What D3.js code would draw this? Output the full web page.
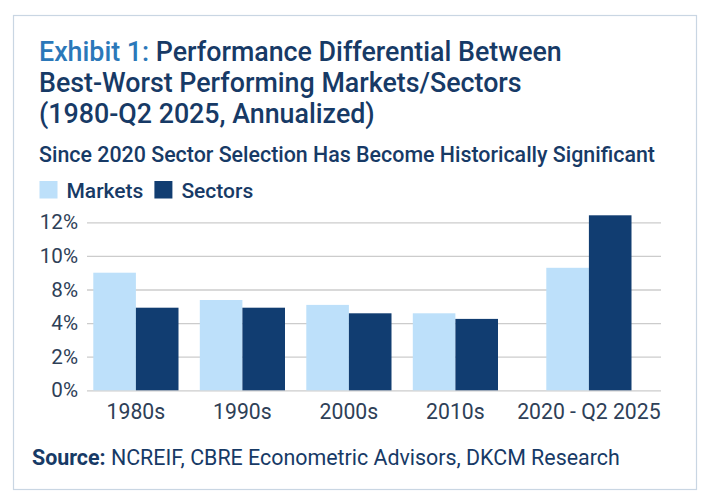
<!DOCTYPE html>
<html>
<head>
<meta charset="utf-8">
<script src="https://cdn.jsdelivr.net/npm/d3@7/dist/d3.min.js"></script>
<style>
  html, body { margin: 0; padding: 0; background: #fff; }
  svg { display: block; font-family: Roboto, "Noto Sans", sans-serif; }
</style>
</head>
<body>
<svg id="chart" width="709" height="504"></svg>
<script>
// ---- data ----
const categories = ["1980s", "1990s", "2000s", "2010s", "2020 - Q2 2025"];
const seriesNames = ["Markets", "Sectors"];
const marketsValues = [8.4, 6.45, 6.1, 5.5, 8.75];
const sectorsValues = [5.9, 5.9, 5.5, 5.1, 12.5];
const yTickValues = [0, 2.4, 4.8, 7.2, 9.6, 12];
const yTickLabels = ["0%", "2%", "4%", "8%", "10%", "12%"];
const titleLead = "Exhibit 1:";
const titleLines = [" Performance Differential Between", "Best-Worst Performing Markets/Sectors", "(1980-Q2 2025, Annualized)"];
const subtitle = "Since 2020 Sector Selection Has Become Historically Significant";
const sourceLead = "Source:";
const sourceText = " NCREIF, CBRE Econometric Advisors, DKCM Research";

// ---- styles ----
const colors = { Markets: "#bde0fa", Sectors: "#113d71" };
const navy = "#173a66";
const lightBlue = "#2b78b9";
const axisText = "#2e4057";

const svg = d3.select("#chart");

// frame
svg.append("rect").attr("x", 13.5).attr("y", 15.5).attr("width", 683).attr("height", 474)
  .attr("fill", "#fff").attr("stroke", "#c9d6e3").attr("stroke-width", 1.2);

// title
const titleSize = 26.8;
const title = svg.append("text").attr("x", 39).attr("y", 61)
  .attr("font-size", titleSize).attr("font-weight", 500).attr("fill", navy);
title.append("tspan").attr("fill", lightBlue).text(titleLead);
title.append("tspan").text(titleLines[0]);
titleLines.slice(1).forEach((t, i) => {
  svg.append("text").attr("x", 39).attr("y", 92 + i * 31)
    .attr("font-size", titleSize).attr("font-weight", 500).attr("fill", navy).text(t);
});

svg.append("text").attr("x", 39).attr("y", 162)
  .attr("font-size", 21.4).attr("font-weight", 500).attr("fill", navy).text(subtitle);

// legend
const legend = svg.append("g");
let lx = 39.5;
seriesNames.forEach(name => {
  legend.append("rect").attr("x", lx).attr("y", 181).attr("width", 18).attr("height", 17.5).attr("fill", colors[name]);
  const t = legend.append("text").attr("x", lx + 27).attr("y", 197.5)
    .attr("font-size", 21).attr("font-weight", 500).attr("fill", navy).text(name);
  lx += 27 + t.node().getComputedTextLength() + 11;
});

// scales
const plotLeft = 87, plotRight = 661, yTop = 222.3, yBottom = 390.3;
const y = d3.scaleLinear().domain([0, 12]).range([yBottom, yTop]);
const x0 = d3.scaleBand().domain(categories).range([82.65, 615.15]).paddingInner(0.2).paddingOuter(0.1);
const lastGap = 27;
const xPos = c => x0(c) + (c === categories[categories.length - 1] ? lastGap : 0);
const x1 = d3.scaleBand().domain(seriesNames).range([0, x0.bandwidth()]).padding(0);

// gridlines
const yAxis = d3.axisLeft(y).tickValues(yTickValues).tickSize(-(plotRight - plotLeft))
  .tickFormat((d, i) => yTickLabels[i]);
const gy = svg.append("g").attr("transform", `translate(${plotLeft},0)`).call(yAxis);
gy.select(".domain").remove();
gy.selectAll(".tick line").attr("stroke", "#cccccc").attr("stroke-width", 1.3);
gy.selectAll(".tick text").attr("x", -9).attr("font-size", 20.6).attr("fill", axisText)
  .attr("font-family", "Roboto, sans-serif");

// bars
const rows = categories.map((c, i) => ({ cat: c, Markets: marketsValues[i], Sectors: sectorsValues[i] }));
const groups = svg.append("g").selectAll("g").data(rows).join("g")
  .attr("transform", d => `translate(${xPos(d.cat)},0)`);
groups.selectAll("rect").data(d => seriesNames.map(k => ({ key: k, value: d[k] }))).join("rect")
  .attr("x", d => x1(d.key)).attr("width", x1.bandwidth())
  .attr("y", d => y(d.value)).attr("height", d => y(0) - y(d.value))
  .attr("fill", d => colors[d.key]);

// x axis labels
const xAxis = svg.append("g");
xAxis.selectAll("text").data(categories).join("text")
  .attr("x", c => xPos(c) + x0.bandwidth() / 2).attr("y", 418.5)
  .attr("text-anchor", "middle").attr("font-size", 21.2).attr("fill", axisText).text(c => c);

// source
const src = svg.append("text").attr("x", 32).attr("y", 465).attr("font-size", 21.4).attr("fill", navy);
src.append("tspan").attr("font-weight", 700).text(sourceLead);
src.append("tspan").text(sourceText);
</script>
</body>
</html>
